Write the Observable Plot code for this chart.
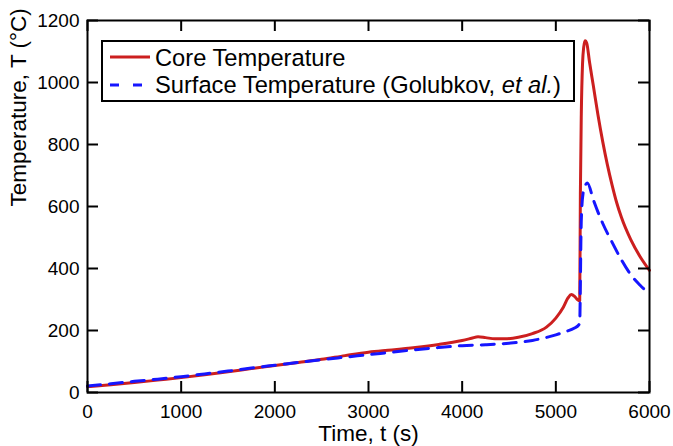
<!DOCTYPE html>
<html>
<head>
<meta charset="utf-8">
<script src="https://cdn.jsdelivr.net/npm/d3@7"></script>
<script src="https://cdn.jsdelivr.net/npm/@observablehq/plot@0.6"></script>
<style>
  html, body { margin: 0; padding: 0; background: #fff; }
  #wrap { position: relative; width: 673px; height: 446px; font-family: "Liberation Sans", Arial, sans-serif; }
  #legend { position: absolute; left: 101px; top: 40px; }
</style>
</head>
<body>
<div id="wrap"></div>
<script>
// ---- data ----
const coreTime = [0, 250, 500, 750, 1000, 1250, 1500, 1750, 2000, 2250, 2500, 2750, 3000, 3250, 3500, 3750, 4000, 4100, 4170, 4250, 4350, 4450, 4600, 4750, 4900, 5000, 5080, 5130, 5165, 5200, 5230, 5255, 5262, 5272, 5285, 5298, 5312, 5330, 5360, 5400, 5450, 5500, 5550, 5600, 5650, 5700, 5800, 5900, 6000];
const coreTemp = [19, 25, 32, 40, 48, 57, 67, 77, 87, 97, 107, 119, 130, 137, 145, 155, 168, 175, 180, 177, 173, 173, 178, 190, 211, 240, 275, 305, 316, 310, 300, 296, 640, 900, 1060, 1115, 1135, 1127, 1065, 990, 895, 810, 735, 670, 612, 565, 493, 438, 394];

const surfTime = [0, 250, 500, 750, 1000, 1250, 1500, 1750, 2000, 2250, 2500, 2750, 3000, 3250, 3500, 3750, 4000, 4250, 4500, 4750, 5000, 5100, 5200, 5245, 5255, 5262, 5268, 5278, 5292, 5315, 5337, 5400, 5450, 5500, 5600, 5700, 5800, 5900, 6000];
const surfTemp = [21, 28, 36, 43, 51, 60, 69, 79, 88, 97, 106, 114, 122, 130, 138, 145, 151, 154, 159, 168, 186, 196, 208, 218, 225, 350, 500, 600, 645, 668, 676, 622, 582, 546, 485, 428, 380, 346, 318];

const seriesNames = ["Core Temperature", "Surface Temperature (Golubkov, ", "et al.", ")"];
const xTicks = [0, 1000, 2000, 3000, 4000, 5000, 6000];
const yTicks = [0, 200, 400, 600, 800, 1000, 1200];
const xLabel = "Time, t (s)";
const yLabel = "Temperature, T (\u00B0C)";

const RED = "#cc1f1f";
const BLUE = "#1616ff";

const core = coreTime.map((t, i) => ({t, T: coreTemp[i]}));
const surf = surfTime.map((t, i) => ({t, T: surfTemp[i]}));

const font = "'Liberation Sans', Arial, sans-serif";
const fmt = d => String(d);

const chart = Plot.plot({
  width: 673,
  height: 446,
  marginLeft: 87,
  marginRight: 24,
  marginTop: 20,
  marginBottom: 54,
  x: {domain: [0, 6000]},
  y: {domain: [0, 1200]},
  style: {fontFamily: font, fontSize: "19px", color: "black", background: "white", overflow: "visible"},
  marks: [
    Plot.line(core, {x: "t", y: "T", stroke: RED, strokeWidth: 3, curve: "monotone-x"}),
    Plot.line(surf, {x: "t", y: "T", stroke: BLUE, strokeWidth: 3, strokeDasharray: "13,9", curve: "monotone-x"}),
    Plot.axisX(xTicks, {tickSize: 0, tickPadding: 12, label: null, fontSize: 19, tickFormat: fmt}),
    Plot.axisY(yTicks, {tickSize: 0, tickPadding: 8, label: null, fontSize: 19, tickFormat: fmt}),
    Plot.tickX(xTicks, {x: d => d, insetTop: 361, strokeWidth: 2, stroke: "black"}),
    Plot.tickX(xTicks, {x: d => d, insetBottom: 361, strokeWidth: 2, stroke: "black"}),
    Plot.tickY(yTicks, {y: d => d, insetRight: 551, strokeWidth: 2, stroke: "black"}),
    Plot.tickY(yTicks, {y: d => d, insetLeft: 551, strokeWidth: 2, stroke: "black"}),
    Plot.frame({stroke: "black", strokeWidth: 2}),
    Plot.text([xLabel], {frameAnchor: "bottom", lineAnchor: "top", dy: 33, fontSize: 22.5, fill: "black"}),
    Plot.text([yLabel], {frameAnchor: "left", rotate: -90, lineAnchor: "top", dx: -77, fontSize: 22.5, fill: "black"})
  ]
});
document.getElementById("wrap").appendChild(chart);

// ---- legend (inside the plot area, top-left) ----
const svgNS = "http://www.w3.org/2000/svg";
const lg = document.createElementNS(svgNS, "svg");
lg.setAttribute("id", "legend");
lg.setAttribute("width", 474);
lg.setAttribute("height", 62);
lg.style.fontFamily = font;
lg.innerHTML = `
  <rect x="1" y="1" width="472" height="60" fill="white" stroke="black" stroke-width="2"/>
  <line x1="9" x2="49" y1="17" y2="17" stroke="${RED}" stroke-width="3"/>
  <line x1="9" x2="49" y1="45" y2="45" stroke="${BLUE}" stroke-width="3" stroke-dasharray="9,14"/>
  <text x="54" y="26" font-size="23.7" fill="black">${seriesNames[0]}</text>
  <text x="54" y="53" font-size="23.7" fill="black">${seriesNames[1]}<tspan font-style="italic">${seriesNames[2]}</tspan>${seriesNames[3]}</text>
`;
document.getElementById("wrap").appendChild(lg);
</script>
</body>
</html>
